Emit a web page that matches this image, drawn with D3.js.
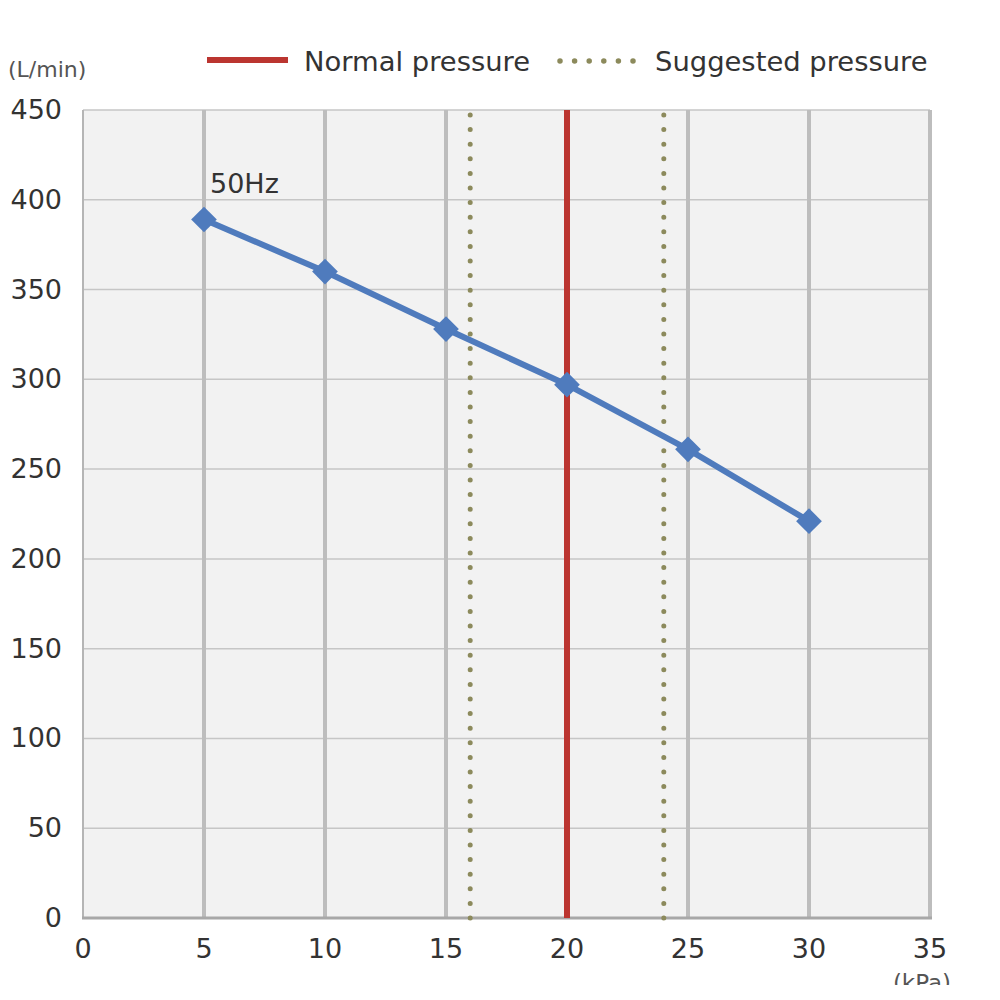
<!DOCTYPE html>
<html>
<head>
<meta charset="utf-8">
<script src="https://cdn.jsdelivr.net/npm/d3@7"></script>
<style>
  body { margin: 0; background: #fff; }
  text { font-family: "DejaVu Sans", sans-serif; fill: #333; }
</style>
</head>
<body>
<script>
// flow vs pressure, 50Hz
var pressure = [5, 10, 15, 20, 25, 30];
var flow = [389, 360, 328, 297, 261, 221];
var xTicks = [0, 5, 10, 15, 20, 25, 30, 35];
var yTicks = [0, 50, 100, 150, 200, 250, 300, 350, 400, 450];
var normalPressure = [20];
var suggestedPressure = [16, 24];
var seriesName = "50Hz";

var W = 1000, H = 1000;
var margin = {left: 83, right: 70, top: 110, bottom: 82};

var svg = d3.select("body").append("svg")
  .attr("width", W)
  .attr("height", H);

var x = d3.scaleLinear().domain([0, 35]).range([margin.left, W - margin.right]);
var y = d3.scaleLinear().domain([0, 450]).range([H - margin.bottom, margin.top]);

// the source picture is cut off near the bottom
svg.append("clipPath").attr("id", "cut")
  .append("rect").attr("x", 0).attr("y", 0).attr("width", W).attr("height", 985);

// plot background
svg.append("rect")
  .attr("x", x(0)).attr("y", y(450))
  .attr("width", x(35) - x(0))
  .attr("height", y(0) - y(450))
  .attr("fill", "#f2f2f2");

// horizontal grid
svg.append("g").selectAll("line")
  .data(yTicks.slice(1))
  .enter().append("line")
    .attr("x1", x(0)).attr("x2", x(35))
    .attr("y1", function(d){ return y(d); })
    .attr("y2", function(d){ return y(d); })
    .attr("stroke", "#c6c6c6")
    .attr("stroke-width", 1.5);

// vertical grid (thicker)
svg.append("g").selectAll("line")
  .data(xTicks.slice(1, -1))
  .enter().append("line")
    .attr("x1", function(d){ return x(d); })
    .attr("x2", function(d){ return x(d); })
    .attr("y1", y(450)).attr("y2", y(0))
    .attr("stroke", "#bdbdbd")
    .attr("stroke-width", 4);

// frame: left thin, right & bottom thicker
svg.append("line")
  .attr("x1", x(0)).attr("x2", x(0))
  .attr("y1", y(450)).attr("y2", y(0))
  .attr("stroke", "#b5b5b5").attr("stroke-width", 2);
svg.append("line")
  .attr("x1", x(35)).attr("x2", x(35))
  .attr("y1", y(450)).attr("y2", y(0))
  .attr("stroke", "#bdbdbd").attr("stroke-width", 4);
svg.append("line")
  .attr("x1", x(0) - 1).attr("x2", x(35) + 2)
  .attr("y1", y(0)).attr("y2", y(0))
  .attr("stroke", "#a8a8a8").attr("stroke-width", 3);

// reference lines
svg.append("g").selectAll("line")
  .data(suggestedPressure)
  .enter().append("line")
    .attr("x1", function(d){ return x(d); })
    .attr("x2", function(d){ return x(d); })
    .attr("y1", y(450) + 5).attr("y2", y(0))
    .attr("stroke", "#8c8a5c")
    .attr("stroke-width", 5)
    .attr("stroke-linecap", "round")
    .attr("stroke-dasharray", "0 14.6");

svg.append("g").selectAll("line")
  .data(normalPressure)
  .enter().append("line")
    .attr("x1", function(d){ return x(d); })
    .attr("x2", function(d){ return x(d); })
    .attr("y1", y(450)).attr("y2", y(0))
    .attr("stroke", "#bb3530")
    .attr("stroke-width", 6);

// series
var pts = pressure.map(function(p, i){ return [p, flow[i]]; });
var line = d3.line()
  .x(function(d){ return x(d[0]); })
  .y(function(d){ return y(d[1]); });

svg.append("path")
  .datum(pts)
  .attr("d", line)
  .attr("fill", "none")
  .attr("stroke", "#4f7bbd")
  .attr("stroke-width", 6);

svg.append("g").selectAll("path")
  .data(pts)
  .enter().append("path")
    .attr("d", d3.symbol().type(d3.symbolSquare).size(330))
    .attr("transform", function(d){ return "translate(" + x(d[0]) + "," + y(d[1]) + ") rotate(45)"; })
    .attr("fill", "#4f7bbd");

svg.append("text")
  .attr("x", x(pts[0][0]) + 6)
  .attr("y", y(pts[0][1]) - 27)
  .attr("font-size", 27)
  .text(seriesName);

// tick labels
svg.append("g").selectAll("text")
  .data(yTicks)
  .enter().append("text")
    .attr("x", 62)
    .attr("y", function(d){ return y(d) + 9; })
    .attr("text-anchor", "end")
    .attr("font-size", 27)
    .text(function(d){ return d; });

svg.append("g").selectAll("text")
  .data(xTicks)
  .enter().append("text")
    .attr("x", function(d){ return x(d); })
    .attr("y", 958)
    .attr("text-anchor", "middle")
    .attr("font-size", 27)
    .text(function(d){ return d; });

// units
svg.append("text")
  .attr("x", 8).attr("y", 77)
  .attr("font-size", 22)
  .style("fill", "#555")
  .text("(L/min)");

svg.append("text")
  .attr("x", 922).attr("y", 991)
  .attr("text-anchor", "middle")
  .attr("font-size", 23)
  .attr("clip-path", "url(#cut)")
  .style("fill", "#555")
  .text("(kPa)");

// legend
var lg = svg.append("g");
lg.append("line")
  .attr("x1", 207).attr("x2", 288)
  .attr("y1", 60).attr("y2", 60)
  .attr("stroke", "#bb3530").attr("stroke-width", 6);
lg.append("text")
  .attr("x", 304).attr("y", 71)
  .attr("font-size", 27.4)
  .text("Normal pressure");
lg.append("line")
  .attr("x1", 560).attr("x2", 634)
  .attr("y1", 61).attr("y2", 61)
  .attr("stroke", "#8c8a5c").attr("stroke-width", 5.5)
  .attr("stroke-linecap", "round")
  .attr("stroke-dasharray", "0 14.6");
lg.append("text")
  .attr("x", 655).attr("y", 71)
  .attr("font-size", 27.4)
  .text("Suggested pressure");
</script>
</body>
</html>
